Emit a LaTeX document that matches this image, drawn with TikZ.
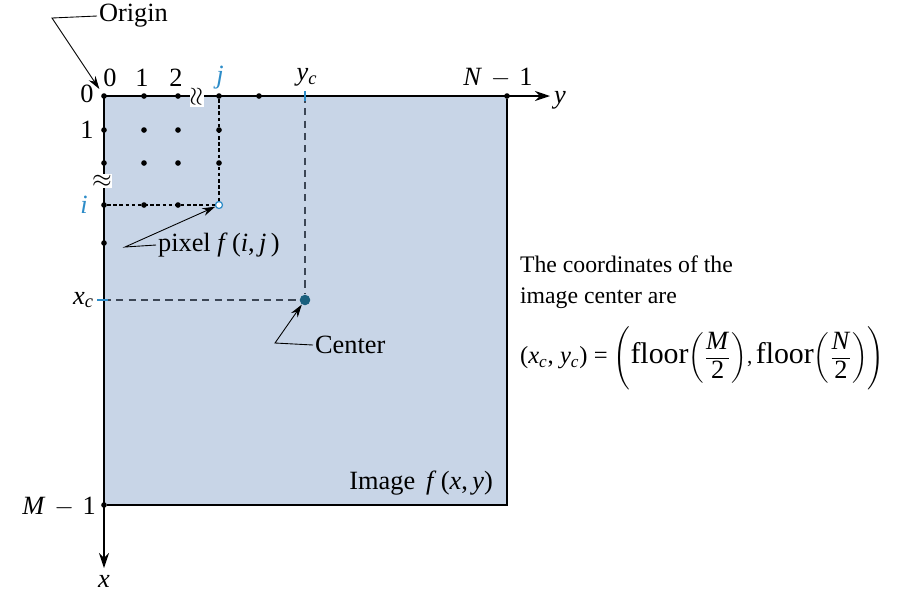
\documentclass[tikz,border=0pt]{standalone}
\usepackage{amsmath}
\usepackage{fontspec}
\setmainfont{Liberation Serif}
\usetikzlibrary{arrows.meta,positioning,calc}
\definecolor{C_img}{RGB}{200,213,231}
\definecolor{C_blue}{RGB}{45,140,200}
\definecolor{C_teal}{RGB}{25,95,125}
\definecolor{C_guide}{RGB}{60,70,85}
\newcommand{\vi}[1]{\textit{#1}}
\newcommand{\flr}{{\fontsize{17}{17}\selectfont floor}}
\newcommand{\half}[1]{\left(\dfrac{\text{\fontsize{15}{15}\selectfont\vi{#1}}}{\text{\fontsize{15}{15}\selectfont 2}}\right)}

\begin{document}
\begin{tikzpicture}[x=0.02cm, y=-0.02cm, every node/.style={font=\fontsize{15}{17}\selectfont, inner sep=1pt}]
  \tikzset{
    axis/.style={-{Stealth[length=3mm, width=2mm]}, line width=0.8pt},
    border/.style={line width=0.6pt},
    tick/.style={circle, fill=black, inner sep=0pt, minimum size=3.2pt},
    pixdot/.style={circle, draw=C_blue, fill=white, inner sep=0pt, minimum size=4pt, line width=0.7pt},
    ctrdot/.style={circle, fill=C_teal, inner sep=0pt, minimum size=6pt},
    fine/.style={dash pattern=on 2pt off 1.5pt, line width=0.6pt},
    guide/.style={dash pattern=on 4pt off 3pt, line width=0.6pt, C_guide},
    leader/.style={-{Stealth[length=2.6mm, width=1.6mm]}, line width=0.5pt},
    brk/.style={fill=white, inner sep=0.3pt},
    bluetick/.style={C_blue, line width=0.9pt}
  }
  \useasboundingbox (0,0) rectangle (922,593);

  % image area
  \coordinate (O) at (104,96);
  \coordinate (BR) at (507,505);
  \fill[C_img] (O) rectangle (BR);

  % ticks on the axes
  \foreach \n/\x in {c0/104,c1/144,c2/178,cj/219,c4/259,cN/507} {
    \node[tick] (\n) at (\x,96) {};
  }
  \foreach \n/\y in {r1/130,r2/163,ri/205,r4/243,rM/505} {
    \node[tick] (\n) at (104,\y) {};
  }
  \coordinate (yc) at (305,96);
  \coordinate (xc) at (104,300);

  % pixel grid
  \node[pixdot] (pix) at (219,205) {};
  \node[ctrdot] (ctr) at (305,300) {};
  \draw[fine] (cj) -- (pix);
  \draw[fine] (ri) -- (pix);
  \draw[guide] (yc) -- (ctr);
  \draw[guide] (xc) -- (ctr);
  \foreach \x in {144,178,219} {
    \foreach \y in {130,163} {
      \node[tick] at (\x,\y) {};
    }
  }
  \node[tick] (d1) at (144,205) {};
  \node[tick] (d2) at (178,205) {};

  % axes and border
  \draw[border] (cN) -- (BR) -- (rM);
  \coordinate (yend) at (550,96);
  \coordinate (xend) at (104,568);
  \draw[axis] (O) -- (yend);
  \draw[axis] (O) -- (xend);
  \draw[bluetick] ($(yc)+(0,-5)$) -- ($(yc)+(0,5)$);
  \draw[bluetick] ($(xc)+(-7,0)$) -- ($(xc)+(4,0)$);
  \node[brk, rotate=90] (brky) at (197,97) {$\approx$};
  \node[brk] (brkx) at (102,181) {$\approx$};

  % axis labels
  \node (lc0) at (110,78) {0};
  \node (lc1) at (142,78) {1};
  \node (lc2) at (176,78) {2};
  \node[text=C_blue] (lcj) at (220,78) {\vi{j}};
  \node (lcy) at (307,77) {\vi{y}$_{\vi{c}}$};
  \node (lcN) at (498,78) {\vi{N}\,\,$-$\,\,1};
  \node (lr0) at (87,94) {0};
  \node (lr1) at (87,130) {1};
  \node[text=C_blue] (lri) at (84,205) {\vi{i}};
  \node[anchor=east] (lrx) at (96,300) {\vi{x}$_{\vi{c}}$};
  \node[anchor=east] (lrM) at (98,507) {\vi{M}\,\,$-$\,\,1};
  \node[anchor=west] (ly) at (552,100) {\vi{y}};
  \node (lx) at (104,581) {\vi{x}};

  % callouts
  \node[anchor=west] (origin) at (97,16) {Origin};
  \coordinate (kO) at (52,18);
  \draw[leader, shorten >=3pt] (origin.west) -- (kO) -- (c0);
  \node[anchor=west] (pixlab) at (156,245) {pixel \vi{f}\,(\vi{i},\,\vi{j}\,)};
  \coordinate (kP) at (125,247);
  \draw[leader] (pixlab.west) -- (kP) -- (pix);
  \node[anchor=west] (ctrlab) at (313,345) {Center};
  \coordinate (kC) at (275,343);
  \draw[leader] (ctrlab.west) -- (kC) -- (ctr);
  \node[anchor=east] (imglab) at (495,483) {Image \,\vi{f}\,(\vi{x},\,\vi{y})};

  % note on the right
  \node[anchor=west, align=left, font=\fontsize{13.5}{17.6}\selectfont] (note) at (518,282)
    {The coordinates of the\\image center are};
  \node[anchor=west, font=\fontsize{12}{14}\selectfont] (formula) at (518,358)
    {{\fontsize{14}{14}\selectfont(\vi{x}$_{\vi{c}}$, \vi{y}$_{\vi{c}}$) = }$\Biggl($\flr$\half{M}$,\,\flr$\half{N}\Biggr)$};
\end{tikzpicture}
\end{document}
